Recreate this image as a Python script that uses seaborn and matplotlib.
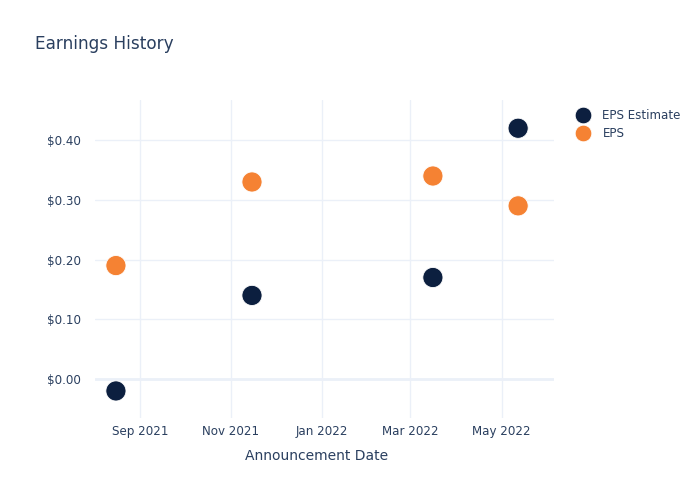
import matplotlib
matplotlib.use("Agg")
import matplotlib.pyplot as plt
import matplotlib.dates as mdates
import matplotlib.ticker as mticker
import seaborn as sns
import pandas as pd

dates = ["2021-08-16", "2021-11-15", "2022-03-16", "2022-05-12"]
eps_estimate = [-0.02, 0.14, 0.17, 0.42]
eps_actual = [0.19, 0.33, 0.34, 0.29]
series_names = ["EPS Estimate", "EPS"]
colors = ["#0c1f3f", "#f58233"]
x_ticks = ["2021-09-01", "2021-11-01", "2022-01-01", "2022-03-01", "2022-05-01"]
y_ticks = [0.0, 0.1, 0.2, 0.3, 0.4]

sns.set_theme(style="white")
plt.rcParams["font.family"] = ["DejaVu Sans"]
TXT = "#2a3f5f"
GRID = "#ebf0f8"

df = pd.DataFrame({
    "date": pd.to_datetime(dates * 2),
    "value": eps_estimate + eps_actual,
    "series": [series_names[0]] * len(dates) + [series_names[1]] * len(dates),
})

fig = plt.figure(figsize=(7, 5), dpi=100)
ax = fig.add_axes([95 / 700, 1 - 418 / 500, (554 - 95) / 700, (418 - 100) / 500])

sns.scatterplot(data=df, x="date", y="value", hue="series", hue_order=series_names,
                palette=colors, s=210, linewidth=0.6, edgecolor="white", ax=ax,
                zorder=3, legend=True)

ax.set_xlim(pd.Timestamp("2021-08-02"), pd.Timestamp("2022-06-05"))
ax.set_ylim(-0.0653, 0.4673)
ax.set_xticks(pd.to_datetime(x_ticks))
ax.xaxis.set_major_formatter(mdates.DateFormatter("%b %Y"))
ax.set_yticks(y_ticks)
ax.yaxis.set_major_formatter(mticker.FuncFormatter(lambda v, p: f"${v:.2f}"))

for s in ax.spines.values():
    s.set_visible(False)
ax.grid(True, color=GRID, linewidth=1)
ax.set_axisbelow(True)
ax.axhline(0, color=GRID, linewidth=2, zorder=1)

ax.tick_params(axis="both", length=0, colors=TXT, labelsize=8.6)
ax.tick_params(axis="y", pad=10)
ax.tick_params(axis="x", pad=5)
ax.set_ylabel("")
ax.set_xlabel("Announcement Date", color=TXT, fontsize=10.0, labelpad=8)
ax.xaxis.set_label_coords((317 - 95) / (554 - 95), -0.08)
ax.xaxis.label.set_va("center")
ax.xaxis.set_label_coords((317 - 95) / (554 - 95), -(456 - 418) / (418 - 100))

fig.text(35 / 700, 1 - 44 / 500, "Earnings History", color=TXT, fontsize=12.2,
         va="center", ha="left")

leg = ax.get_legend()
handles = leg.legend_handles
leg.remove()
lg = fig.legend(handles, series_names, loc="upper left",
                bbox_to_anchor=(566 / 700, 1 - 104 / 500), frameon=False,
                fontsize=8.6, labelspacing=0.45, handletextpad=0.65, markerscale=1.0,
                borderaxespad=0)
for h in lg.legend_handles:
    h.set_markersize(12)
for t in lg.get_texts():
    t.set_color(TXT)

fig.savefig("out.png", dpi=100)
